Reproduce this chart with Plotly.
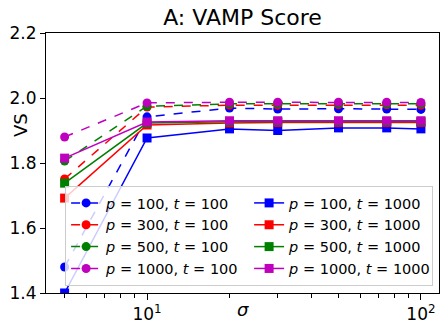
import plotly.graph_objects as go

sigma = [5, 10, 20, 30, 50, 75, 100]

labels_p = ["100", "300", "500", "1000"]
colors = ["#0000ff", "#ff0000", "#008000", "#bf00bf"]

vs_t100 = {
    "100": [1.480, 1.942, 1.969, 1.966, 1.967, 1.966, 1.965],
    "300": [1.751, 1.972, 1.978, 1.978, 1.979, 1.979, 1.978],
    "500": [1.806, 1.975, 1.982, 1.982, 1.982, 1.982, 1.982],
    "1000": [1.880, 1.985, 1.987, 1.987, 1.987, 1.987, 1.986],
}
vs_t1000 = {
    "100": [1.400, 1.877, 1.905, 1.900, 1.908, 1.908, 1.905],
    "300": [1.692, 1.917, 1.923, 1.925, 1.925, 1.925, 1.925],
    "500": [1.738, 1.923, 1.927, 1.928, 1.928, 1.928, 1.928],
    "1000": [1.815, 1.926, 1.930, 1.930, 1.930, 1.930, 1.930],
}
err = [0.004, 0.004, 0.004, 0.004, 0.004, 0.004, 0.004]

x_ticks = [10, 100]
x_tick_text = ["10<sup>1</sup>", "10<sup>2</sup>"]
x_minor = [5, 6, 7, 8, 9, 20, 30, 40, 50, 60, 70, 80, 90]
y_ticks = [1.4, 1.6, 1.8, 2.0, 2.2]
y_tick_text = ["1.4", "1.6", "1.8", "2.0", "2.2"]

fig = go.Figure()
font = "DejaVu Sans"

for i, (p, c) in enumerate(zip(labels_p, colors)):
    fig.add_trace(go.Scatter(
        x=sigma, y=vs_t100[p], mode="lines+markers",
        name=f"<i>p</i> = {p}, <i>t</i> = 100",
        line=dict(color=c, width=1.5, dash="dash"),
        marker=dict(symbol="circle", size=9, color=c),
        error_y=dict(type="data", array=err, color=c, thickness=1.5, width=0),
        legendrank=2 * i + 1,
        cliponaxis=True,
    ))
for i, (p, c) in enumerate(zip(labels_p, colors)):
    fig.add_trace(go.Scatter(
        x=sigma, y=vs_t1000[p], mode="lines+markers",
        name=f"<i>p</i> = {p}, <i>t</i> = 1000",
        line=dict(color=c, width=1.5),
        marker=dict(symbol="square", size=9, color=c),
        error_y=dict(type="data", array=err, color=c, thickness=1.5, width=0),
        legendrank=2 * i + 2,
        cliponaxis=True,
    ))

fig.update_layout(
    width=448, height=329,
    margin=dict(l=46, r=9, t=33, b=36, autoexpand=False),
    paper_bgcolor="white", plot_bgcolor="white",
    font=dict(family=font, color="black"),
    title=dict(text="A: VAMP Score", xref="paper", x=0.5, xanchor="center",
               y=0.948, yanchor="middle",
               font=dict(size=22, family=font, color="black")),
    showlegend=True,
    legend=dict(
        orientation="h", x=0.985, xanchor="right", y=0.027, yanchor="bottom",
        entrywidth=138, entrywidthmode="pixels",
        bgcolor="rgba(255,255,255,0.8)", bordercolor="#cccccc", borderwidth=1,
        font=dict(size=14.5, family=font), tracegroupgap=0, itemwidth=30,
    ),
    xaxis=dict(
        type="log", range=[0.631, 2.066], automargin=False,
        tickvals=x_ticks, ticktext=x_tick_text,
        ticks="outside", ticklen=6, tickwidth=1, tickcolor="black",
        tickfont=dict(size=17, family=font),
        minor=dict(tickvals=x_minor, ticks="outside", ticklen=3.5,
                   tickcolor="black", showgrid=False),
        showgrid=False, zeroline=False,
        showline=True, linecolor="black", linewidth=1, mirror=True,
    ),
    yaxis=dict(
        range=[1.4, 2.2], automargin=False,
        tickvals=y_ticks, ticktext=y_tick_text,
        ticks="outside", ticklen=5, tickwidth=1, tickcolor="black",
        tickfont=dict(size=17, family=font),
        showgrid=False, zeroline=False,
        showline=True, linecolor="black", linewidth=1, mirror=True,
    ),
    annotations=[
        dict(text="VS", xref="paper", yref="paper", x=-0.066, y=0.646,
             xanchor="center", yanchor="middle", textangle=-90, showarrow=False,
             font=dict(size=18, family=font, color="black")),
        dict(text="<i>σ</i>", xref="paper", yref="paper", x=0.501, y=-0.065,
             xanchor="center", yanchor="middle", showarrow=False,
             font=dict(size=18, family=font, color="black")),
    ],
)

fig.write_html(
    "out.html",
    config={"displayModeBar": False},
    post_script="document.body.style.margin='0';document.body.style.padding='0';",
)
